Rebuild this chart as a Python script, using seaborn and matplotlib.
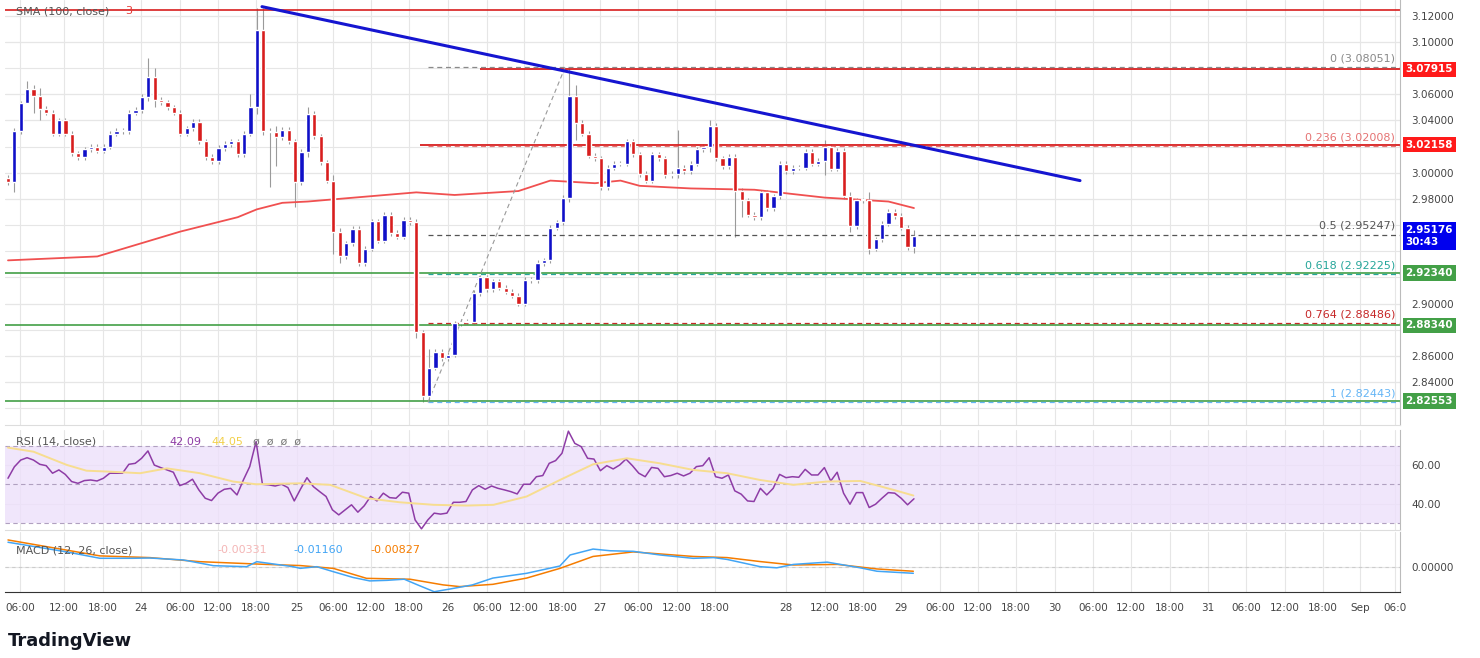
import numpy as np
import pandas as pd
import seaborn as sns
import matplotlib.pyplot as plt

# hourly closes (first candle ~ Aug 23 04:00)
closes = [2.993, 3.032, 3.053, 3.064, 3.059, 3.049, 3.046, 3.030, 3.040, 3.030,
          3.015, 3.012, 3.018, 3.020, 3.017, 3.020, 3.030, 3.032, 3.032, 3.046,
          3.048, 3.058, 3.073, 3.056, 3.054, 3.050, 3.046, 3.030, 3.034, 3.039,
          3.024, 3.012, 3.009, 3.019, 3.022, 3.024, 3.014, 3.030, 3.050, 3.109,
          3.032, 3.031, 3.027, 3.033, 3.024, 2.993, 3.016, 3.045, 3.028, 3.008,
          2.994, 2.955, 2.936, 2.946, 2.957, 2.931, 2.942, 2.963, 2.948, 2.968,
          2.954, 2.951, 2.964, 2.962, 2.878, 2.829, 2.851, 2.863, 2.858, 2.861,
          2.885, 2.886, 2.886, 2.908, 2.920, 2.911, 2.917, 2.912, 2.909, 2.906,
          2.900, 2.918, 2.918, 2.931, 2.933, 2.958, 2.962, 2.981, 3.059, 3.038,
          3.030, 3.013, 3.011, 2.989, 3.004, 3.007, 3.007, 3.024, 3.014, 2.999,
          2.994, 3.014, 3.011, 2.998, 2.999, 3.004, 3.001, 3.007, 3.018, 3.020,
          3.036, 3.011, 3.005, 3.012, 2.986, 2.979, 2.968, 2.966, 2.985, 2.973,
          2.982, 3.007, 3.001, 3.004, 3.004, 3.016, 3.007, 3.009, 3.020, 3.003,
          3.017, 2.982, 2.959, 2.979, 2.979, 2.942, 2.949, 2.961, 2.970, 2.967,
          2.958, 2.943, 2.952]
first_open = 2.996
# notable wicks (candle index -> (high, low))
wicks = {1: (3.034, 2.985), 3: (3.070, 3.060), 4: (3.067, 3.046), 5: (3.065, 3.040),
         22: (3.088, 3.055), 23: (3.080, 3.050), 38: (3.060, 3.028), 39: (3.126, 3.045),
         40: (3.126, 3.029), 41: (3.034, 2.989), 42: (3.036, 3.005), 45: (3.026, 2.974),
         47: (3.050, 3.012), 51: (2.998, 2.938), 52: (2.958, 2.931), 64: (2.965, 2.874),
         65: (2.880, 2.8244), 66: (2.865, 2.826), 88: (3.0805, 2.978), 89: (3.067, 3.025),
         105: (3.033, 2.996), 110: (3.040, 3.016), 114: (3.014, 2.951), 115: (2.988, 2.966),
         128: (3.025, 2.998), 132: (2.985, 2.955), 135: (2.985, 2.938), 142: (2.956, 2.939)}

sma_idx = [0, 14, 27, 36, 39, 43, 47, 64, 70, 80, 85, 92, 96, 99, 107, 117, 128, 138, 142]
sma_val = [2.933, 2.936, 2.955, 2.966, 2.972, 2.977, 2.978, 2.985, 2.983, 2.986,
           2.994, 2.992, 2.994, 2.990, 2.988, 2.987, 2.981, 2.978, 2.973]

rsi_a = [53.1, 59, 62.5, 63.7, 62.5, 60.3, 59.6, 55.7, 57.4, 55.1, 51.4, 50.5, 51.9, 52.2,
         51.7, 53.1, 55.7, 55.7, 55.7, 60.3, 60.8, 63.4, 67.2, 59.9, 58.6, 57.4, 56.2, 49.3,
         50.5, 52.6, 47.1, 42.8, 41.6, 45.4, 47.4, 47.9, 44.5, 52.2, 59.1, 72, 50, 49.7, 49.1,
         50, 48.3, 41.4, 47.6, 53.4, 48.8, 46.2, 43.7, 36.8, 34.2, 36.8, 39.4, 35.6, 38.9,
         43.7, 41.4, 45.4, 43.1, 42.8, 45.9, 45.4, 31.6, 27, 31.6, 35.1, 34.6, 35.1, 40.7,
         40.7, 41.1]
rsi_b = [41.1, 47.1, 49.3, 47.4, 49.1, 47.9, 47.1, 46.2, 45, 50, 50, 53.9, 54.5, 60.8, 62.2,
         66, 77.4, 71.1, 69.4, 63.4, 63, 57, 59.6, 57.9, 59.9, 63, 59.6, 55.7, 53.9, 58.7,
         58.2, 53.9, 54.5, 55.7, 54.3, 55.7, 59.1, 59.6, 63.7, 53.9, 53.1, 54.8, 46.6, 44.9,
         41.4, 41.1, 47.9, 44.5, 47.9, 55.1, 53.4, 53.9, 53.6, 57.7, 54.8, 54.8, 58.6, 51.7,
         56.2, 45.4, 39.7, 45.7, 45.7, 38, 39.7, 42.8, 45.7, 45.4, 42.8, 39.4, 42.5]
rsi_ma_idx = [0, 4, 9.2, 12.3, 16, 20.7, 24.9, 30.1, 35.3, 38.9, 45.8, 50.5, 56.2, 61.4,
              66.7, 71.9, 76.1, 81.3, 86.5, 91.7, 97, 102.2, 107.4, 112.7, 117.9, 123.1,
              128.3, 133.6, 138.8, 141.9]
rsi_ma_val = [68.9, 66.8, 60, 57, 56.5, 55.7, 58.2, 55.7, 51.4, 50, 50.5, 49.7, 42.8, 40.7,
              39.4, 39, 39.4, 43.7, 52.2, 60.3, 63.4, 60.8, 57.4, 55.7, 52.2, 49.7, 51.4,
              51.7, 47.1, 44.2]

macd_idx = [0, 9.2, 14.4, 19.6, 22.2, 27.5, 32.2, 37.4, 39, 44.7, 45.8, 48.4, 51, 54.1,
            56.7, 59.4, 62.1, 64.2, 66.8, 68.9, 72.8, 76, 81.3, 86.5, 88.1, 91.7, 94.4,
            98, 102.2, 107.4, 110.6, 112.7, 117.9, 120.5, 123.1, 128.4, 133.6, 136.2, 141.9]
macd_val = [0.043, 0.026, 0.0148, 0.0148, 0.0153, 0.0118, 0.0018, 0.0, 0.0088, 0.0,
            -0.0029, 0.0, -0.0088, -0.019, -0.025, -0.024, -0.022, -0.032, -0.044, -0.040,
            -0.032, -0.020, -0.0116, 0.0012, 0.0206, 0.031, 0.028, 0.027, 0.0206, 0.0147,
            0.016, 0.0128, 0.0, -0.002, 0.004, 0.008, -0.002, -0.008, -0.0116]
sig_idx = [0, 14.4, 22.2, 30.1, 40.5, 45.8, 51, 56.2, 63, 68.2, 70.8, 76, 81.3, 86.5,
           91.7, 98, 107.4, 112.7, 117.9, 123.1, 130, 136.2, 141.9]
sig_val = [0.047, 0.019, 0.016, 0.0088, 0.004, 0.002, -0.003, -0.0205, -0.022, -0.032,
           -0.035, -0.031, -0.020, -0.003, 0.018, 0.026, 0.018, 0.016, 0.009, 0.003, 0.004,
           -0.004, -0.008]

tick_px = [20, 64, 103, 141, 180, 218, 256, 297, 333, 371, 409, 448, 487, 524, 563, 600,
           638, 677, 715, 786, 825, 863, 901, 940, 978, 1016, 1055, 1093, 1131, 1170, 1208,
           1246, 1285, 1323, 1360, 1395]
tick_labels = ["06:00", "12:00", "18:00", "24", "06:00", "12:00", "18:00", "25", "06:00",
               "12:00", "18:00", "26", "06:00", "12:00", "18:00", "27", "06:00", "12:00",
               "18:00", "28", "12:00", "18:00", "29", "06:00", "12:00", "18:00", "30",
               "06:00", "12:00", "18:00", "31", "06:00", "12:00", "18:00", "Sep", "06:0"]
price_ticks = [3.12, 3.10, 3.06, 3.04, 3.00, 2.98, 2.90, 2.86, 2.84]
grid_prices = [3.12, 3.10, 3.08, 3.06, 3.04, 3.02, 3.00, 2.98, 2.96, 2.94, 2.92, 2.90,
               2.88, 2.86, 2.84, 2.82]

fib_levels = [0, 0.236, 0.5, 0.618, 0.764, 1]
fib_prices = [3.08051, 3.02008, 2.95247, 2.92225, 2.88486, 2.82443]
fib_colors = ["#8a8a8a", "#e57373", "#555555", "#26a69a", "#c62828", "#64b5f6"]

# ---- derive OHLC
opens = [first_open] + closes[:-1]
df = pd.DataFrame({"open": opens, "close": closes})
df["i"] = np.arange(len(df))
df["high"] = df[["open", "close"]].max(axis=1) + 0.002
df["low"] = df[["open", "close"]].min(axis=1) - 0.002
for k, (h, l) in wicks.items():
    df.loc[k, "high"] = h
    df.loc[k, "low"] = l

W, H = 1480, 658
px = lambda x: (x - 8) / 6.38  # pixel -> candle index
xlim = (px(5), px(1400))

sns.set_style("whitegrid", {"grid.color": "#e6e6e6"})
fig = plt.figure(figsize=(14.8, 6.58), dpi=100)


def box(top, bottom):
    return [5 / W, 1 - bottom / H, 1395 / W, (bottom - top) / H]


ax = fig.add_axes(box(0, 425))
ax_rsi = fig.add_axes(box(430, 530), sharex=ax)
ax_m = fig.add_axes(box(532, 592), sharex=ax)

BLUE, RED = "#1010c8", "#d81e1e"
up = df["close"] >= df["open"]
cols = np.where(up, BLUE, RED)
for p in grid_prices:
    ax.axhline(p, color="#e6e6e6", lw=0.8, zorder=0)
ax.vlines(df["i"], df["low"], df["high"], color="#9a9a9a", lw=0.8, zorder=2)
ax.bar(df["i"], (df["close"] - df["open"]).abs().clip(lower=0.0006),
       bottom=df[["open", "close"]].min(axis=1), width=0.66, color=cols, zorder=3)

sns.lineplot(x=sma_idx, y=sma_val, ax=ax, color="#f05050", lw=1.3, zorder=2)

# horizontal levels
ax.axhline(3.1245, color=RED, lw=1.2)
ax.hlines(3.07915, px(480), xlim[1], color=RED, lw=1.3)
ax.hlines(3.02158, px(420), xlim[1], color=RED, lw=1.3)
for p in [2.9234, 2.8834, 2.82553]:
    ax.axhline(p, color="#43a047", lw=1.2)
for lv, p, c in zip(fib_levels, fib_prices, fib_colors):
    ax.hlines(p, px(428), xlim[1], color=c, lw=0.9, ls=(0, (4, 3)))
    ax.text(px(1395), p + 0.003, f"{lv} ({p:.5f})", color=c, ha="right", va="bottom", fontsize=8)
ax.plot([px(428), px(565)], [2.8244, 3.0805], color="#999999", lw=0.8, ls=(0, (4, 3)))
ax.plot([px(262), px(1080)], [3.127, 2.994], color="#1515d0", lw=2.2, zorder=4)

ax.set_xlim(*xlim)
ax.set_ylim(2.8071, 3.1321)
ax.set_yticks(price_ticks)
ax.yaxis.tick_right()
ax.yaxis.set_major_formatter(lambda v, _: f"{v:.5f}")
ax.tick_params(axis="y", labelsize=7.5, labelcolor="#444444", length=0, pad=8)
ax.tick_params(axis="x", labelbottom=False, length=0)
ax.set_xticks([px(t) for t in tick_px])
ax.text(0.008, 0.985, "SMA (100, close)", transform=ax.transAxes, fontsize=8,
        color="#555555", va="top")
ax.text(0.086, 0.985, "3", transform=ax.transAxes, fontsize=8, color="#e53935", va="top")

# price tags on right axis
tags = [(3.07915, "3.07915", "#ff1a1a"), (3.02158, "3.02158", "#ff1a1a"),
        (2.95176, "2.95176\n30:43", "#0000ee"), (2.9234, "2.92340", "#43a047"),
        (2.8834, "2.88340", "#43a047"), (2.82553, "2.82553", "#43a047")]
for p, t, c in tags:
    ax.text(1.004, p, t, transform=ax.get_yaxis_transform(), color="white", fontsize=7.5,
            fontweight="bold", va="center", ha="left", clip_on=False, linespacing=1.3,
            bbox=dict(boxstyle="square,pad=0.25", fc=c, ec="none"), zorder=10)

# RSI
ax_rsi.axhspan(30, 70, color="#ede0fb", alpha=0.8, lw=0)
for lvl in [70, 50, 30]:
    ax_rsi.axhline(lvl, color="#b0a0c0", lw=0.8, ls=(0, (4, 3)))
rsi_x = list(np.linspace(0, px(466), len(rsi_a))) + list(np.linspace(px(466), 142, len(rsi_b)))[1:]
sns.lineplot(x=rsi_x, y=rsi_a + rsi_b[1:], ax=ax_rsi, color="#8e3ca6", lw=1.1)
sns.lineplot(x=rsi_ma_idx, y=rsi_ma_val, ax=ax_rsi, color="#f7dd90", lw=1.4)
ax_rsi.set_ylim(26.4, 78)
ax_rsi.set_yticks([40, 60])
ax_rsi.yaxis.tick_right()
ax_rsi.yaxis.set_major_formatter(lambda v, _: f"{v:.2f}")
ax_rsi.tick_params(axis="y", labelsize=7.5, labelcolor="#444444", length=0, pad=8)
ax_rsi.tick_params(axis="x", labelbottom=False, length=0)
ax_rsi.text(0.008, 0.93, "RSI (14, close)", transform=ax_rsi.transAxes, fontsize=8, color="#555555", va="top")
ax_rsi.text(0.118, 0.93, "42.09", transform=ax_rsi.transAxes, fontsize=8, color="#8e3ca6", va="top")
ax_rsi.text(0.148, 0.93, "44.05", transform=ax_rsi.transAxes, fontsize=8, color="#f2d04a", va="top")
ax_rsi.text(0.178, 0.93, "ø  ø  ø  ø", transform=ax_rsi.transAxes, fontsize=8, color="#777777", va="top")

# MACD
ax_m.axhline(0, color="#cccccc", lw=0.8, ls=(0, (3, 3)))
sns.lineplot(x=sig_idx, y=sig_val, ax=ax_m, color="#f57c00", lw=1.1)
sns.lineplot(x=macd_idx, y=macd_val, ax=ax_m, color="#42a5f5", lw=1.1)
ax_m.set_ylim(-0.0445, 0.061)
ax_m.set_yticks([0])
ax_m.yaxis.tick_right()
ax_m.yaxis.set_major_formatter(lambda v, _: f"{v:.5f}")
ax_m.tick_params(axis="y", labelsize=7.5, labelcolor="#444444", length=0, pad=8)
ax_m.set_xticklabels(tick_labels)
ax_m.tick_params(axis="x", labelsize=7.5, labelcolor="#444444", length=0, pad=8)
ax_m.text(0.008, 0.78, "MACD (12, 26, close)", transform=ax_m.transAxes, fontsize=8, color="#555555", va="top")
ax_m.text(0.152, 0.78, "-0.00331", transform=ax_m.transAxes, fontsize=8, color="#f4b6b6", va="top")
ax_m.text(0.207, 0.78, "-0.01160", transform=ax_m.transAxes, fontsize=8, color="#42a5f5", va="top")
ax_m.text(0.262, 0.78, "-0.00827", transform=ax_m.transAxes, fontsize=8, color="#f57c00", va="top")

for a in (ax, ax_rsi, ax_m):
    a.set_xlabel("")
    a.set_ylabel("")
    for s in ["top", "left"]:
        a.spines[s].set_visible(False)
    a.spines["right"].set_color("#bbbbbb")
    a.spines["bottom"].set_color("#dddddd")
ax_m.spines["bottom"].set_color("#333333")

fig.text(8 / W, 1 - 641 / H, "TradingView", fontsize=13, fontweight="bold",
         color="#131722", va="center")

fig.savefig("out.png", dpi=100, facecolor="white")
